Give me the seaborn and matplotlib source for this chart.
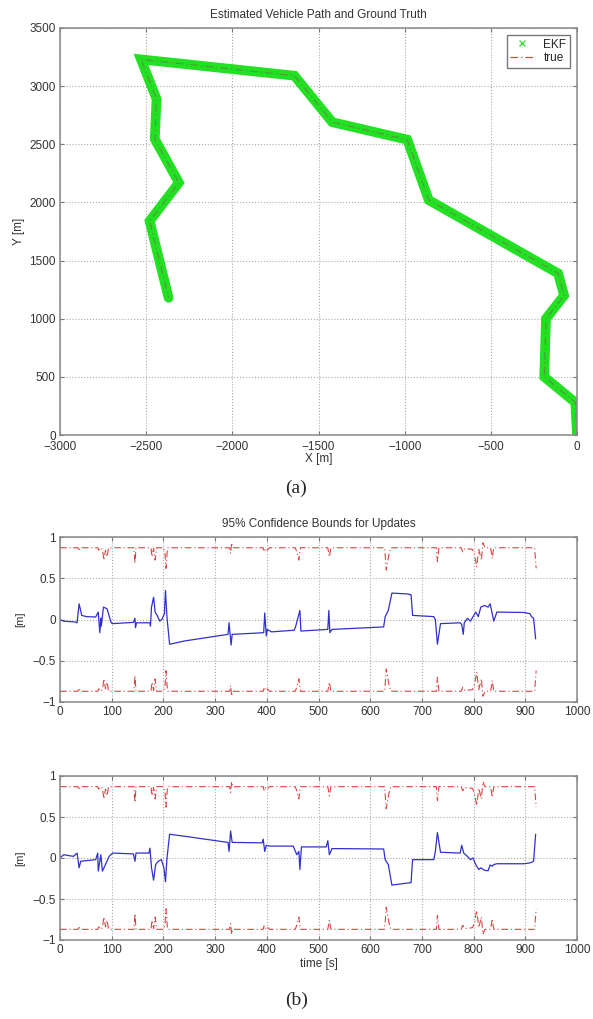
import numpy as np
import pandas as pd
import matplotlib
matplotlib.use('Agg')
import matplotlib.pyplot as plt
import seaborn as sns
from matplotlib.lines import Line2D

# vehicle path vertices [m]
path_x = [0, -10, -190, -180, -75, -110, -860, -985, -1420, -1640,
          -2530, -2440, -2450, -2310, -2480, -2370]
path_y = [0, 280, 500, 1000, 1200, 1390, 2020, 2540, 2690, 3090,
          3230, 2890, 2545, 2170, 1840, 1180]

# update error, first component
err1_t = [0, 7, 29, 33, 37, 42, 51, 69, 74, 77, 79, 80, 84, 91, 99, 102,
          142, 145, 146, 148, 174, 175, 177, 181, 184, 188, 193, 197, 202, 204,
          207, 212, 241, 325, 327, 331, 333, 394, 396, 399, 401, 409, 453, 456,
          460, 464, 466, 518, 520, 522, 526, 626, 629, 635, 642, 672, 679, 682,
          723, 726, 730, 736, 774, 777, 780, 782, 788, 794, 799, 804, 809, 814,
          821, 828, 832, 836, 839, 845, 898, 909, 912, 916, 920]
err1_v = [0.0, -0.02, -0.03, -0.04, 0.19, 0.05, 0.035, 0.03, 0.09, -0.16, 0.015,
          -0.08, 0.15, 0.13, -0.04, -0.05,
          -0.035, 0.015, -0.1, -0.04, -0.04, -0.08, 0.15, 0.27, 0.09, 0.05, -0.02,
          0.0, 0.07, 0.35,
          0.02, -0.3, -0.26, -0.18, -0.04, -0.31, -0.18, -0.16, 0.08, -0.2, -0.12,
          -0.15, -0.13, -0.08,
          0.015, 0.11, -0.14, -0.12, 0.11, -0.16, -0.12, -0.09, 0.035, 0.11, 0.32,
          0.31, 0.3, 0.05,
          0.035, 0.0, -0.3, -0.05, -0.04, -0.06, -0.18, -0.04, 0.015, -0.02, 0.035,
          0.09, 0.035, 0.15,
          0.17, 0.15, 0.19, 0.07, -0.02, 0.09, 0.085, 0.07, 0.035, 0.015, -0.235]

# update error, second component
err2_t = [0, 7, 26, 33, 37, 40, 69, 73, 74, 79, 82, 88, 95, 102,
          142, 145, 147, 172, 174, 177, 181, 185, 190, 196, 201, 204, 207, 212,
          241, 325, 327, 330, 333, 391, 393, 396, 399, 405, 451, 454, 458, 462,
          464, 467, 515, 518, 521, 526, 626, 629, 635, 642, 679, 682, 723, 726,
          730, 736, 774, 777, 781, 788, 794, 799, 804, 810, 814, 821, 828, 832,
          836, 839, 845, 898, 909, 916, 920]
err2_v = [0.0, 0.04, 0.02, 0.06, -0.12, -0.04, -0.02, 0.06, -0.16, 0.04, -0.16,
          -0.08, 0.02, 0.06,
          0.05, -0.04, 0.06, 0.06, 0.12, -0.12, -0.27, -0.08, -0.04, -0.02, -0.12,
          -0.29, 0.0, 0.29,
          0.265, 0.19, 0.08, 0.33, 0.19, 0.185, 0.23, 0.08, 0.155, 0.145, 0.145,
          0.1, 0.04, 0.08,
          -0.14, 0.135, 0.135, 0.21, 0.04, 0.115, 0.11, -0.02, -0.08, -0.33, -0.3,
          -0.02, -0.02, 0.08,
          0.31, 0.07, 0.06, 0.155, 0.06, 0.02, -0.02, 0.0, -0.08, -0.14, -0.12,
          -0.15, -0.155, -0.085,
          -0.1, -0.08, -0.07, -0.07, -0.06, -0.04, 0.29]

# 95% bound (upper; lower bound is its negative)
bound_t = [0, 35, 37, 39, 73, 75, 78, 82, 85, 88, 91, 94, 143, 145, 147, 176,
           178, 181, 184, 187, 200, 203, 205, 208, 328, 330, 332, 334, 393, 395,
           398, 401, 405, 455, 458, 462, 465, 518, 521, 524, 628, 631, 636, 640,
           728, 730, 733, 776, 779, 783, 798, 802, 806, 810, 815, 818, 822, 833,
           836, 839, 918, 921]
bound_v = [0.87, 0.87, 0.83, 0.87, 0.87, 0.84, 0.87, 0.85, 0.72, 0.84, 0.76,
           0.87, 0.87, 0.68, 0.87, 0.87,
           0.76, 0.86, 0.72, 0.87, 0.87, 0.82, 0.62, 0.87, 0.87, 0.80, 0.93, 0.87,
           0.87, 0.82,
           0.86, 0.84, 0.87, 0.87, 0.82, 0.72, 0.87, 0.87, 0.76, 0.87, 0.87, 0.6,
           0.78, 0.87,
           0.87, 0.7, 0.87, 0.87, 0.82, 0.86, 0.85, 0.78, 0.64, 0.85, 0.72, 0.93,
           0.87, 0.87,
           0.74, 0.87, 0.87, 0.62]

sns.set_style('ticks')
plt.rcParams['font.family'] = ['Liberation Sans', 'DejaVu Sans']
plt.rcParams['axes.edgecolor'] = '#888888'
plt.rcParams['xtick.direction'] = 'in'
plt.rcParams['ytick.direction'] = 'in'

fig = plt.figure(figsize=(5.93, 10.19), dpi=100)
W, H = 593, 1019
red_dash = (0, (6, 2.5, 1, 2.5))

def add_ax(left, top, right, bottom):
    return fig.add_axes([left / W, 1 - bottom / H, (right - left) / W, (bottom - top) / H])

def style(ax):
    ax.grid(True, linestyle=':', color='#aaaaaa', linewidth=0.8)
    ax.tick_params(labelsize=8.5, length=3, color='#777777', top=True, right=True,
                   labelcolor='#333333', pad=3)
    for s in ax.spines.values():
        s.set_linewidth(1.1)

# ---- (a) path
ax1 = add_ax(60, 28, 577, 435)
path = pd.DataFrame({'x': path_x, 'y': path_y})
sns.lineplot(data=path, x='x', y='y', sort=False, estimator=None, ax=ax1,
             color='#22e022', linewidth=7, solid_joinstyle='miter')
sns.lineplot(data=path, x='x', y='y', sort=False, estimator=None, ax=ax1,
             color='#806050', linewidth=0.9, linestyle=red_dash, alpha=0.55)
ax1.set_xlim(-3000, 0)
ax1.set_ylim(0, 3500)
ax1.set_xticks(np.arange(-3000, 1, 500))
ax1.set_yticks(np.arange(0, 3501, 500))
ax1.set_xticklabels(['\u22123000', '\u22122500', '\u22122000', '\u22121500',
                     '\u22121000', '\u2212500', '0'])
style(ax1)
ax1.tick_params(axis='x', pad=4)
ax1.set_xlabel('X [m]', fontsize=8.5, labelpad=0, color='#333333')
ax1.set_ylabel('Y [m]', fontsize=8.5, labelpad=3, color='#333333')
ax1.set_title('Estimated Vehicle Path and Ground Truth', fontsize=8.5, pad=7,
              color='#333333')
handles = [Line2D([], [], color='#44dd44', marker='x', linestyle='none', markersize=4),
           Line2D([], [], color='#dd4444', linestyle=red_dash, linewidth=0.9)]
ax1.legend(handles, ['EKF', 'true'], loc='upper right', fontsize=8.5,
           fancybox=False, edgecolor='#777777', framealpha=1, borderpad=0.3,
           handlelength=2, labelspacing=0.15, borderaxespad=0.6)
fig.text(0.5, 1 - 488 / H, '(a)', ha='center', va='center', fontsize=14,
         family='Liberation Serif')

# ---- (b) confidence bounds
bt = np.array(bound_t)
bv = np.array(bound_v)
for (top, bottom, et, ev, is_last) in [(537, 702, err1_t, err1_v, False),
                                        (776, 940, err2_t, err2_v, True)]:
    ax = add_ax(60, top, 577, bottom)
    sns.lineplot(x=bt, y=bv, sort=False, estimator=None, ax=ax, color='#dd4444',
                 linestyle=red_dash, linewidth=0.8)
    sns.lineplot(x=bt, y=-bv, sort=False, estimator=None, ax=ax, color='#dd4444',
                 linestyle=red_dash, linewidth=0.8)
    sns.lineplot(x=et, y=ev, sort=False, estimator=None, ax=ax, color='#3030cc',
                 linewidth=0.9)
    ax.set_xlim(0, 1000)
    ax.set_ylim(-1, 1)
    ax.set_xticks(np.arange(0, 1001, 100))
    ax.set_yticks([-1, -0.5, 0, 0.5, 1])
    ax.set_yticklabels(['\u22121', '\u22120.5', '0', '0.5', '1'])
    style(ax)
    ax.set_ylabel('[m]', fontsize=8, labelpad=5, color='#333333')
    if is_last:
        ax.set_xlabel('time [s]', fontsize=8.5, labelpad=1, color='#333333')
    else:
        ax.set_title('95% Confidence Bounds for Updates', fontsize=8.5, pad=7,
                     color='#333333')

fig.text(0.5, 1 - 1000 / H, '(b)', ha='center', va='center', fontsize=14,
         family='Liberation Serif')

fig.savefig('out.png', dpi=100)
